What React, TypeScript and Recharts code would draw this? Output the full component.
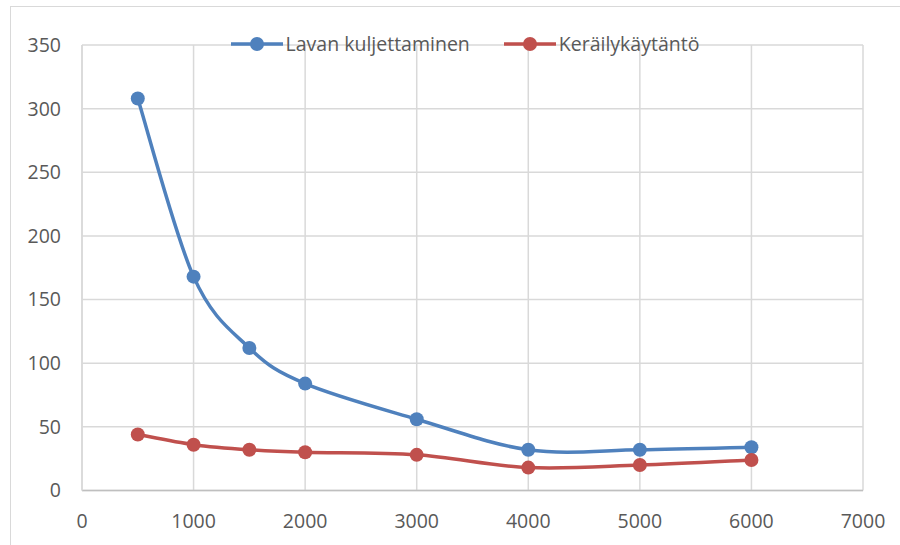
import React from 'react'
import { LineChart, Line, XAxis, YAxis, CartesianGrid } from 'recharts'

const xValues = [500, 1000, 1500, 2000, 3000, 4000, 5000, 6000]
const lavanKuljettaminen = [308, 168, 112, 84, 56, 32, 32, 34]
const keraily = [44, 36, 32, 30, 28, 18, 20, 24]
const xTicks = [0, 1000, 2000, 3000, 4000, 5000, 6000, 7000]
const yTicks = [0, 50, 100, 150, 200, 250, 300, 350]

const SERIES = [
  { key: 'lavan', name: 'Lavan kuljettaminen', color: '#4F81BD' },
  { key: 'keraily', name: 'Keräilykäytäntö', color: '#C0504D' },
]

const data = xValues.map((x, i) => ({ x, lavan: lavanKuljettaminen[i], keraily: keraily[i] }))

const FONT = '"Open Sans", "Noto Sans", sans-serif'
const FONT_SIZE = 19.5
const TEXT = '#595959'
const GRID = '#D9D9D9'

// Excel-style smoothed line (Catmull-Rom as cubic beziers)
function excelSmooth(context: any) {
  let pts: [number, number][] = []
  return {
    areaStart() {},
    areaEnd() {},
    lineStart() { pts = [] },
    point(x: number, y: number) { pts.push([+x, +y]) },
    lineEnd() {
      if (!pts.length) return
      context.moveTo(pts[0][0], pts[0][1])
      for (let i = 0; i < pts.length - 1; i++) {
        const p0 = pts[Math.max(i - 1, 0)]
        const p1 = pts[i]
        const p2 = pts[i + 1]
        const p3 = pts[Math.min(i + 2, pts.length - 1)]
        context.bezierCurveTo(
          p1[0] + (p2[0] - p0[0]) / 6, p1[1] + (p2[1] - p0[1]) / 6,
          p2[0] - (p3[0] - p1[0]) / 6, p2[1] - (p3[1] - p1[1]) / 6,
          p2[0], p2[1],
        )
      }
    },
  }
}

function ChartLegend() {
  return (
    <div style={{
      position: 'absolute', top: 32, left: 0, width: 900, display: 'flex', justifyContent: 'center',
      gap: 34, paddingLeft: 30, boxSizing: 'border-box', fontFamily: FONT, fontSize: FONT_SIZE, color: TEXT, lineHeight: '24px',
    }}>
      {SERIES.map(s => (
        <div key={s.key} style={{ display: 'flex', alignItems: 'center', gap: 3 }}>
          <svg width={52} height={24}>
            <line x1={0} y1={12} x2={52} y2={12} stroke={s.color} strokeWidth={3.5} />
            <circle cx={26} cy={12} r={7} fill={s.color} />
          </svg>
          <span>{s.name}</span>
        </div>
      ))}
    </div>
  )
}

export default function App() {
  return (
    <div style={{ position: 'absolute', left: 0, top: 0, width: 900, height: 545, overflow: 'hidden', background: '#fff' }}>
      <div style={{ position: 'absolute', left: 10, top: 6, width: 1000, height: 700, border: `1.5px solid ${GRID}` }} />
      <LineChart width={900} height={545} data={data} margin={{ top: 45, right: 37, bottom: 0, left: 0 }}>
        <CartesianGrid stroke={GRID} strokeWidth={1.5} />
        <XAxis
          dataKey="x"
          type="number"
          domain={[0, 7000]}
          ticks={xTicks}
          interval={0}
          height={54.5}
          tickLine={false}
          tickSize={0}
          tickMargin={24}
          axisLine={{ stroke: '#BFBFBF', strokeWidth: 1.5 }}
          tick={{ fill: TEXT, fontSize: FONT_SIZE, fontFamily: FONT }}
        />
        <YAxis
          type="number"
          domain={[0, 350]}
          ticks={yTicks}
          interval={0}
          width={82}
          tickLine={false}
          tickSize={0}
          tickMargin={21}
          axisLine={{ stroke: GRID, strokeWidth: 1.5 }}
          tick={{ fill: TEXT, fontSize: FONT_SIZE, fontFamily: FONT }}
        />
        {SERIES.map(s => (
          <Line
            key={s.key}
            dataKey={s.key}
            name={s.name}
            type={excelSmooth as any}
            stroke={s.color}
            strokeWidth={3.5}
            dot={{ r: 7, fill: s.color, stroke: s.color, strokeWidth: 0 }}
            activeDot={false}
            isAnimationActive={false}
          />
        ))}
      </LineChart>
      <ChartLegend />
    </div>
  )
}
